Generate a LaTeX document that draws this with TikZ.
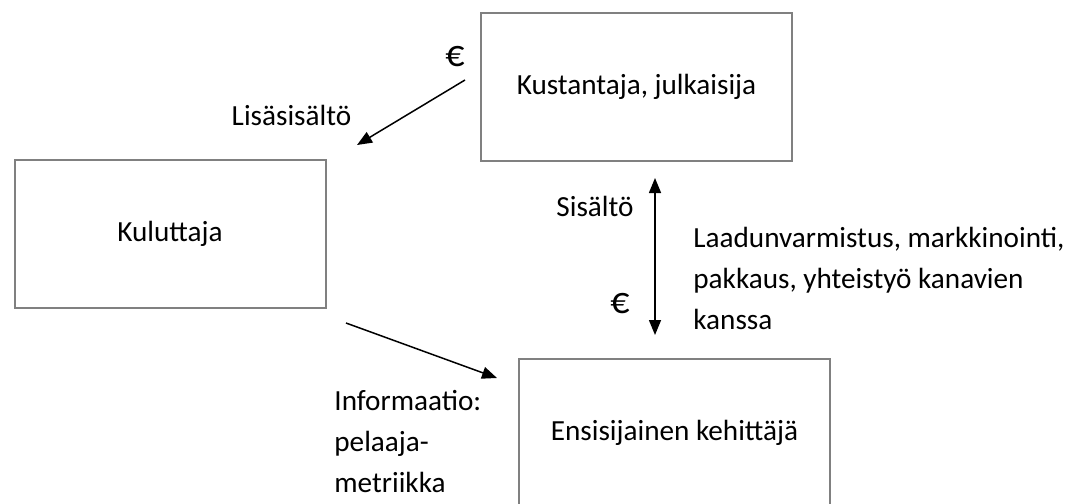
\documentclass[tikz,border=0pt]{standalone}
\usepackage{fontspec}
\setmainfont{Carlito}
\usetikzlibrary{arrows.meta}
\definecolor{boxgray}{RGB}{128,128,128}
\tikzset{
	every actor/.style={
		draw=boxgray,
		line width=1pt,
		minimum width=155.5pt,
		minimum height=74pt,
		inner sep=0pt },
	flow label/.style={
		inner sep=0pt,
		align=left },
	euro label/.style={
		inner sep=0pt,
		font=\fontsize{19}{20.5}\selectfont },
	flow/.style={
		line width=0.75pt },
}

\begin{document}
\begin{tikzpicture}[x=0.5pt, y=-0.5pt, >={Triangle[length=7.5pt,width=6pt]},
	font=\fontsize{14.6}{20.5}\selectfont]

		\useasboundingbox (0,0) rectangle (1070,503);

		\foreach \n/\t/\x/\y in {kustantaja/{Kustantaja, julkaisija}/636.5/86.5,
			kuluttaja/{Kuluttaja}/170/234,
			kehittaja/{Ensisijainen kehittäjä}/674.5/432.5}
		\node [every actor] (\n) at (\x,\y) {\t};

		\coordinate (lisa-from) at (465,80);
		\coordinate (lisa-to) at (357,145);
		\coordinate (sisalto-top) at (655,178);
		\coordinate (sisalto-bottom) at (655,335);
		\coordinate (info-from) at (346,323);
		\coordinate (info-to) at (497,378);

		\draw [flow, ->] (lisa-from) -- (lisa-to);
		\draw [flow, <->] (sisalto-top) -- (sisalto-bottom);
		\draw [flow, ->] (info-from) -- (info-to);

		\node [euro label, anchor=base] (euro-1) at (455,66) {€};
		\node [flow label, anchor=base] (lisa) at (291.5,125) {Lisäsisältö};
		\node [flow label, anchor=base east] (sisalto) at (634,216) {Sisältö};
		\node [euro label, anchor=base east] (euro-2) at (630,313) {€};
		\node [flow label, anchor=north west] (laatu) at (693,227)
		{Laadunvarmistus, markkinointi,\\pakkaus, yhteistyö kanavien\\kanssa};
		\node [flow label, anchor=north west] (info) at (334,390)
		{Informaatio:\\pelaaja-\\metriikka};
	\end{tikzpicture}
\end{document}
